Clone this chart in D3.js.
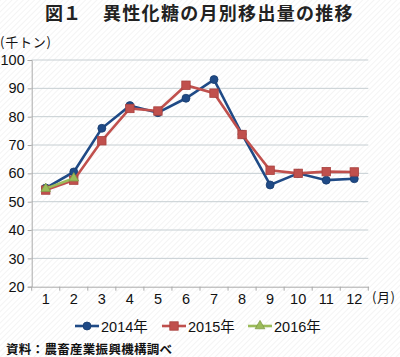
<!DOCTYPE html>
<html><head><meta charset="utf-8">
<script src="https://cdn.jsdelivr.net/npm/d3@7"></script>
<style>
body{margin:0;background:#fff;}
svg text{font-family:"Liberation Sans","Noto Sans CJK JP",sans-serif;}
</style></head>
<body><svg id="c" width="400" height="357"></svg>
<script>
const months = ["1","2","3","4","5","6","7","8","9","10","11","12"];
const yTicks = [20,30,40,50,60,70,80,90,100];
const s2014 = [54.8,60.5,75.9,83.9,81.4,86.5,93.1,73.8,55.9,60.0,57.6,58.1];
const s2015 = [54.1,57.6,71.5,82.9,82.0,91.1,88.3,73.7,61.1,60.0,60.6,60.5];
const s2016 = [54.6,58.3];
const seriesNames = ["2014年","2015年","2016年"];
const colors = ["#1f4a86","#c0504d","#9bbb59"];

const svg = d3.select("#c");
const defs = svg.append("defs");
const pat = defs.append("pattern").attr("id","hatch").attr("width",4).attr("height",4)
  .attr("patternUnits","userSpaceOnUse").attr("patternTransform","rotate(45)");
pat.append("rect").attr("width",4).attr("height",4).attr("fill","#fff");
pat.append("line").attr("x1",0).attr("y1",0).attr("x2",0).attr("y2",4).attr("stroke","#f1f1f1").attr("stroke-width",1.5);
svg.append("rect").attr("width",400).attr("height",357).attr("fill","url(#hatch)");

const L=31.7, R=368.3, T=60, B=286.7;
const x = d3.scaleBand().domain(months).range([L,R]);
const y = d3.scaleLinear().domain([20,100]).range([B,T]);

// title
const cjk = "'Noto Sans CJK JP',sans-serif";
svg.append("text").attr("x",45).attr("y",20).attr("font-size",18).attr("font-weight","bold").attr("fill","#222")
  .style("font-family",cjk).text("図１");
svg.append("text").attr("x",103).attr("y",20).attr("font-size",18).attr("font-weight","bold").attr("fill","#222")
  .attr("letter-spacing",1.3).style("font-family",cjk).text("異性化糖の月別移出量の推移");
svg.append("text").attr("x",0).attr("y",47).attr("font-size",13).attr("fill","#111")
  .attr("letter-spacing",0.8).style("font-family",cjk).text("(千トン)");

// gridlines
svg.append("g").selectAll("line").data(yTicks.slice(1)).join("line")
  .attr("x1",L).attr("x2",R).attr("y1",d=>y(d)).attr("y2",d=>y(d))
  .attr("stroke","#c6ced2").attr("stroke-width",1);

// y axis
const ya = svg.append("g").attr("transform",`translate(${L},0)`)
  .call(d3.axisLeft(y).tickValues(yTicks).tickSize(4).tickPadding(3));
ya.select(".domain").attr("stroke","#aaa");
ya.selectAll(".tick line").attr("stroke","#aaa");
ya.selectAll("text").attr("font-size",14.5).attr("fill","#111")
  .style("font-family","'Liberation Sans',sans-serif");

// x axis
const xa = svg.append("g").attr("transform",`translate(0,${B})`)
  .call(d3.axisBottom(x).tickSize(0).tickPadding(7));
xa.select(".domain").attr("stroke","#aaa");
xa.selectAll("text").attr("font-size",14.5).attr("fill","#111")
  .style("font-family","'Liberation Sans',sans-serif");
const bounds = d3.range(months.length+1).map(i=>L+i*x.step());
svg.append("g").selectAll("line").data(bounds).join("line")
  .attr("x1",d=>d).attr("x2",d=>d).attr("y1",B).attr("y2",B+4).attr("stroke","#aaa");
svg.append("text").attr("x",372).attr("y",302).attr("font-size",13).attr("fill","#111")
  .attr("letter-spacing",0.6).style("font-family",cjk).text("(月)");

const all = [s2014,s2015,s2016];
const line = d3.line().x((d,i)=>x(months[i])+x.bandwidth()/2).y(d=>y(d));
function marker(g,k,cx,cy){
  if(k===0){ g.append("circle").attr("cx",cx).attr("cy",cy).attr("r",4).attr("fill",colors[0]).attr("stroke","#183c6e").attr("stroke-width",0.8); }
  else if(k===1){ g.append("rect").attr("x",cx-4.2).attr("y",cy-4.2).attr("width",8.4).attr("height",8.4).attr("fill",colors[1]).attr("stroke","#a8403d").attr("stroke-width",0.8); }
  else { g.append("path").attr("d",d3.symbol(d3.symbolTriangle,40)()).attr("transform",`translate(${cx},${cy})`).attr("fill",colors[2]).attr("stroke","#7f9a48").attr("stroke-width",0.8); }
}
all.forEach((s,k)=>{
  const g = svg.append("g");
  g.append("path").attr("d",line(s)).attr("fill","none").attr("stroke",colors[k]).attr("stroke-width",2.6);
  s.forEach((v,i)=>marker(g,k,x(months[i])+x.bandwidth()/2,y(v)));
});

// legend
const legX = [75,162,248];
const lg = svg.append("g");
seriesNames.forEach((n,k)=>{
  const cy=326;
  lg.append("line").attr("x1",legX[k]).attr("x2",legX[k]+24).attr("y1",cy).attr("y2",cy).attr("stroke",colors[k]).attr("stroke-width",2.6);
  marker(lg,k,legX[k]+12,cy);
  lg.append("text").attr("x",legX[k]+26).attr("y",cy+5.5).attr("font-size",14.5).attr("fill","#111")
    .text(n);
});

svg.append("text").attr("x",6).attr("y",354).attr("font-size",12.5).attr("font-weight","bold").attr("fill","#111")
  .attr("letter-spacing",0.3).style("font-family",cjk).text("資料：農畜産業振興機構調べ");
</script></body></html>
